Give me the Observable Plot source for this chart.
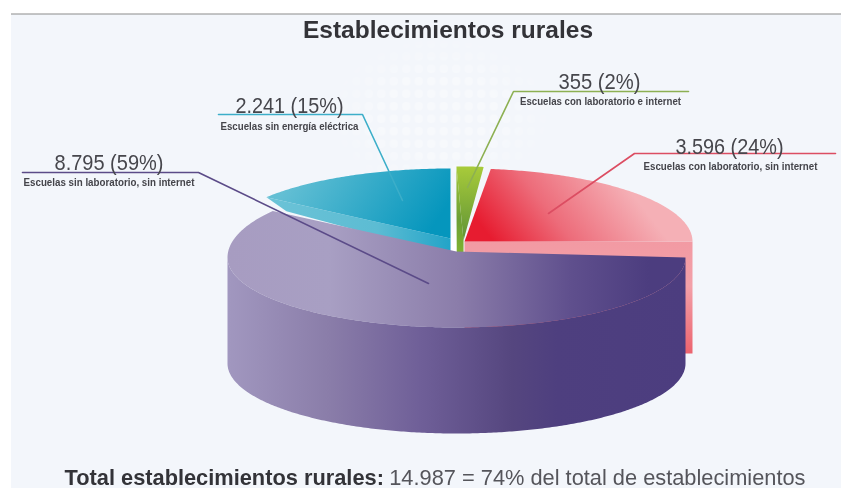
<!DOCTYPE html>
<html><head><meta charset="utf-8">
<style>html,body{margin:0;padding:0;background:#fff;overflow:hidden} svg{filter:blur(.4px)}</style>
<script src="https://cdn.jsdelivr.net/npm/d3@7"></script>
<script src="https://cdn.jsdelivr.net/npm/@observablehq/plot@0.6"></script>
</head><body>
<script>
// ---- data ----
const categories = ["Escuelas sin laboratorio, sin internet","Escuelas sin energía eléctrica","Escuelas con laboratorio e internet","Escuelas con laboratorio, sin internet"];
const values = [8795, 2241, 355, 3596];
const valueLabels = ["8.795 (59%)","2.241 (15%)","355 (2%)","3.596 (24%)"];
const titleText = "Establecimientos rurales";
const footerBold = "Total establecimientos rurales:";
const footerRest = "14.987 = 74% del total de establecimientos";

// ---- layout of each exploded slice (pixel space of the picture) ----
const cx   = [456, 450, 463, 464];
const cy   = [257, 238, 240, 241];
const rx   = [229, 228, 183, 228];
const ryB  = [78, 70, 74, 73];      // back half
const ryF  = [70, 70, 74, 73];      // front half
const startAdj = [0, 4.9, 2.7, 3];
const endAdj   = [5.4, 4.9, 2.7, 0];

const total = d3.sum(values);
let acc = 0;
const slices = values.map((v,i)=>{ const a0=acc; acc+=v/total*360; return {i, a0:a0+startAdj[i], a1:acc+endAdj[i]}; });
function pt(i,deg){ const t=deg*Math.PI/180, s=Math.sin(t); return {x:cx[i]+rx[i]*Math.cos(t), y:cy[i]+(s<0?ryB[i]:ryF[i])*s}; }
function arc(i,a0,a1){ const n=Math.max(2,Math.ceil(Math.abs(a1-a0)*1.5)); return d3.range(n+1).map(k=>pt(i,a0+(a1-a0)*k/n)); }

const purpleTop = [{x:cx[0],y:cy[0]-6},...arc(0,slices[0].a0,slices[0].a1)];
const wallH = 106;
const purpleFront = arc(0,0,180);
const purpleWall = [...purpleFront, ...purpleFront.slice().reverse().map(p=>({x:p.x,y:p.y+wallH}))];
const cyanTop = [{x:cx[1],y:cy[1]},...arc(1,slices[1].a0,slices[1].a1)];
const cyanStart = pt(1,slices[1].a0);
const cyanBand = [cyanStart,{x:cx[1],y:cy[1]},{x:cx[1],y:cy[1]+17},{x:cyanStart.x+20,y:cyanStart.y+14}];
const greenArc = arc(2,slices[2].a0,slices[2].a1);
const greenTop = [{x:cx[2],y:cy[2]},...greenArc];
const greenWall = [{x:greenArc[0].x,y:greenArc[0].y},{x:cx[2],y:cy[2]},{x:cx[2],y:cy[2]+14},{x:greenArc[0].x,y:cy[2]+14}];
const redTop = [{x:cx[3],y:cy[3]},...arc(3,slices[3].a0,slices[3].a1).map(p=>({x:p.x,y:Math.min(p.y,cy[3])}))];
const redRight = cx[3]+rx[3];
const redWall = [{x:cx[3],y:cy[3]},{x:redRight,y:cy[3]},{x:redRight,y:cy[3]+112},{x:cx[3],y:cy[3]+112}];
const gap = [{x:450.5,y:168},{x:456,y:168},{x:456,y:253},{x:450.5,y:253}];

// leaders
const leaders = [
  {c:"#5b4b88", pts:[[22,172],[198,172],[428,283]]},
  {c:"#3caec9", pts:[[218,114],[362,114],[402,200]]},
  {c:"#8db052", pts:[[688,91],[513,91],[467,187]]},
  {c:"#dc4d62", pts:[[835,153],[634,153],[548,213]]}
].flatMap((l,k)=>l.pts.map(p=>({k,x:p[0],y:p[1],c:l.c})));
const bigText = [{x:108.5,y:169},{x:289,y:112},{x:599,y:88},{x:729,y:153}];
const smallText = [{x:108.5,y:185},{x:289,y:129},{x:600,y:104},{x:730,y:169}];
const bigWidths = [109,108,82,108];
const smallWidths = [171,138,161,174];

const defs = () => {
  const g = d3.create("svg:defs");
  g.html(`
  <linearGradient id="pTop" gradientUnits="userSpaceOnUse" x1="228" y1="0" x2="685" y2="0">
    <stop offset="0" stop-color="#a79cc1"/><stop offset=".22" stop-color="#a89fc3"/><stop offset=".5" stop-color="#8b7daa"/><stop offset=".75" stop-color="#5f4f8d"/><stop offset=".92" stop-color="#4c3d7f"/><stop offset="1" stop-color="#4c3d7f"/></linearGradient>
  <linearGradient id="pWall" gradientUnits="userSpaceOnUse" x1="228" y1="0" x2="685" y2="0">
    <stop offset="0" stop-color="#a197bf"/><stop offset=".22" stop-color="#8a7da9"/><stop offset=".42" stop-color="#6f5f98"/><stop offset=".62" stop-color="#55467f"/><stop offset=".72" stop-color="#4e3f7f"/><stop offset="1" stop-color="#4c3d7f"/></linearGradient>
  <linearGradient id="cTop" gradientUnits="userSpaceOnUse" x1="300" y1="165" x2="420" y2="245">
    <stop offset="0" stop-color="#63bfd4"/><stop offset="1" stop-color="#0596bd"/></linearGradient>
  <linearGradient id="cBand" gradientUnits="userSpaceOnUse" x1="266" y1="0" x2="450" y2="0">
    <stop offset="0" stop-color="#6cc3d7"/><stop offset=".6" stop-color="#5cbcd3"/><stop offset="1" stop-color="#23a4c8"/></linearGradient>
  <linearGradient id="gTop" gradientUnits="userSpaceOnUse" x1="0" y1="166" x2="0" y2="240">
    <stop offset="0" stop-color="#a8cb3a"/><stop offset="1" stop-color="#5f9336"/></linearGradient>
  <linearGradient id="gWall" gradientUnits="userSpaceOnUse" x1="0" y1="166" x2="0" y2="254">
    <stop offset="0" stop-color="#a4c83a"/><stop offset=".6" stop-color="#6c9e34"/><stop offset="1" stop-color="#7fb32f"/></linearGradient>
  <linearGradient id="rTop" gradientUnits="userSpaceOnUse" x1="500" y1="250" x2="610" y2="165">
    <stop offset="0" stop-color="#e71c30"/><stop offset=".45" stop-color="#ed6c7a"/><stop offset="1" stop-color="#f5b0b6"/></linearGradient>
  <linearGradient id="rWall" gradientUnits="userSpaceOnUse" x1="0" y1="241" x2="0" y2="353">
    <stop offset="0" stop-color="#f29aa3"/><stop offset=".4" stop-color="#f3a0a8"/><stop offset="1" stop-color="#ec636e"/></linearGradient>
  <linearGradient id="gapG" gradientUnits="userSpaceOnUse" x1="0" y1="200" x2="0" y2="245">
    <stop offset="0" stop-color="#ffffff" stop-opacity="0"/><stop offset="1" stop-color="#ffffff"/></linearGradient>
  <pattern id="dots" patternUnits="userSpaceOnUse" width="12.5" height="12.5">
    <rect x="2" y="2" width="8.5" height="8.5" rx="3.5" fill="#ffffff" fill-opacity=".32"/></pattern>
  <radialGradient id="fade"><stop offset=".5" stop-color="#fff"/><stop offset="1" stop-color="#000"/></radialGradient>
  <mask id="dotMask" maskUnits="userSpaceOnUse" x="320" y="30" width="240" height="170"><ellipse cx="440" cy="115" rx="120" ry="85" fill="url(#fade)"/></mask>`);
  return g.node();
};
const poly = (data, fill) => Plot.line(data,{x:"x",y:"y",fill,stroke:"none",curve:"linear"});

const chart = Plot.plot({
  width:841, height:488, margin:0,
  x:{domain:[0,841],range:[0,841],axis:null},
  y:{domain:[0,488],range:[0,488],axis:null},
  style:{background:"#ffffff",overflow:"hidden"},
  marks:[
    defs,
    Plot.rect([{}],{x1:()=>11,x2:()=>841,y1:()=>14,y2:()=>488,fill:"#f3f6fb"}),
    Plot.rect([{}],{x1:()=>320,x2:()=>560,y1:()=>30,y2:()=>200,fill:"url(#dots)"}),
    Plot.ruleY([13.5],{x1:11,x2:841,stroke:"#8c8c8c",strokeWidth:1.2}),
    poly(redWall,"url(#rWall)"),
    poly(redTop,"url(#rTop)"),
    poly(cyanBand,"url(#cBand)"),
    poly(cyanTop,"url(#cTop)"),
    poly(greenWall,"url(#gWall)"),
    poly(greenTop,"url(#gTop)"),
    poly(gap,"url(#gapG)"),
    poly(purpleTop,"url(#pTop)"),
    poly(purpleWall,"url(#pWall)"),
    Plot.line(leaders,{x:"x",y:"y",z:"k",stroke:"c",strokeWidth:1.6,curve:"linear"}),
    Plot.text([titleText],{x:()=>447.5,y:()=>37,text:d=>d,textAnchor:"middle",lineAnchor:"bottom",fontFamily:"Liberation Sans",fontWeight:"bold",fontSize:24.5,fill:"#333338"}),
    Plot.text(valueLabels,{x:(d,i)=>bigText[i].x,y:(d,i)=>bigText[i].y,text:d=>d,textAnchor:"middle",lineAnchor:"bottom",fontFamily:"Liberation Sans",fontSize:22,fill:"#46464c"}),
    Plot.text(categories,{x:(d,i)=>smallText[i].x,y:(d,i)=>smallText[i].y,text:d=>d,textAnchor:"middle",lineAnchor:"bottom",fontFamily:"Liberation Sans",fontWeight:"bold",fontSize:11,fill:"#45454b"}),
    Plot.text([footerBold],{x:()=>64,y:()=>484,text:d=>d,textAnchor:"start",lineAnchor:"bottom",fontFamily:"Liberation Sans",fontWeight:"bold",fontSize:21.8,fill:"#333338"}),
    Plot.text([footerRest],{x:()=>805,y:()=>484,text:d=>d,textAnchor:"end",lineAnchor:"bottom",fontFamily:"Liberation Sans",fontSize:21.8,fill:"#55555b"})
  ]
});
// condensed faces are not installed: squeeze the label glyphs to the reference widths
const textWidths = new Map([...valueLabels.map((t,i)=>[t,bigWidths[i]]),...categories.map((t,i)=>[t,smallWidths[i]])]);
chart.querySelectorAll("text").forEach(t=>{
  const w = textWidths.get(t.textContent);
  if (w){ t.setAttribute("textLength",w); t.setAttribute("lengthAdjust","spacingAndGlyphs"); }
});
chart.querySelectorAll('[fill="url(#dots)"]').forEach(n=>n.setAttribute("mask","url(#dotMask)"));
document.body.appendChild(chart);
</script>
</body></html>
